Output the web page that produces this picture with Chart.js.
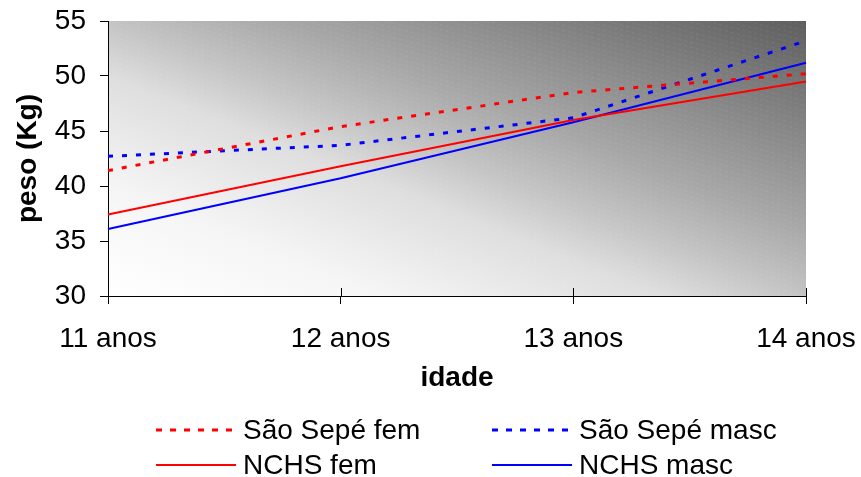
<!DOCTYPE html>
<html>
<head>
<meta charset="utf-8">
<script src="https://cdn.jsdelivr.net/npm/chart.js@4"></script>
<style>
  html, body { margin: 0; padding: 0; background: #fff; }
  #wrap { width: 861px; height: 477px; }
</style>
</head>
<body>
<div id="wrap"><canvas id="grafico"></canvas></div>
<script>
// --- DADOS ---
const idades = ["11 anos", "12 anos", "13 anos", "14 anos"];
const sepeFem = [41.4, 45.4, 48.5, 50.2];
const sepeMasc = [42.7, 43.7, 46.2, 53.2];
const nchsFem = [37.4, 41.8, 46.0, 49.5];
const nchsMasc = [36.1, 40.7, 45.8, 51.2];
const yTicks = [30, 35, 40, 45, 50, 55];

const FONTE = "Liberation Sans, Arial, sans-serif";
const TAM = 28;

// fundo em degradê diagonal (estilo Excel) + riscos claros
const fundo = {
    id: "fundo",
    beforeDatasetsDraw(chart) {
        const { ctx, chartArea: a } = chart;
        const w = a.right - a.left, h = a.bottom - a.top;
        ctx.save();
        // degradê em coordenadas normalizadas: canto inf. esq. claro, sup. dir. escuro
        ctx.translate(a.left, a.top);
        ctx.scale(w, h);
        const g = ctx.createLinearGradient(0, 1, 1, 0);
        g.addColorStop(0, "#ffffff");
        g.addColorStop(0.2, "#f5f5f5");
        g.addColorStop(0.4, "#dedede");
        g.addColorStop(0.5, "#c4c4c4");
        g.addColorStop(0.62, "#a8a8a8");
        g.addColorStop(1, "#5e5e5e");
        ctx.fillStyle = g;
        ctx.fillRect(0, 0, 1, 1);
        ctx.restore();

        ctx.save();
        ctx.beginPath();
        ctx.rect(a.left, a.top, w, h);
        ctx.clip();
        ctx.strokeStyle = "rgba(255,255,255,0.07)";
        ctx.lineWidth = 1;
        ctx.setLineDash([3, 3]);
        for (let y = a.top - w / 4; y < a.bottom + 10; y += 5) {
            ctx.beginPath();
            ctx.moveTo(a.left, y);
            ctx.lineTo(a.right, y + w / 4);
            ctx.stroke();
        }
        ctx.restore();

        // eixos e marcas internas do eixo x
        ctx.save();
        ctx.strokeStyle = "#000";
        ctx.lineWidth = 1;
        ctx.beginPath();
        ctx.moveTo(a.left + 0.5, a.top);
        ctx.lineTo(a.left + 0.5, a.bottom);
        ctx.moveTo(a.left, a.bottom + 0.5);
        ctx.lineTo(a.right, a.bottom + 0.5);
        const xs = chart.scales.x;
        xs.ticks.forEach((t, i) => {
            const px = Math.round(xs.getPixelForTick(i)) + 0.5;
            ctx.moveTo(px, a.bottom - 8);
            ctx.lineTo(px, a.bottom);
        });
        ctx.stroke();
        ctx.restore();
    }
};

// legenda em duas colunas, desenhada abaixo do gráfico
const legenda = {
    id: "legenda",
    afterDraw(chart) {
        const { ctx } = chart;
        const pos = [
            { x: 156, y: 430 }, { x: 492, y: 430 },
            { x: 156, y: 465 }, { x: 492, y: 465 }
        ];
        ctx.save();
        ctx.font = TAM + "px " + FONTE;
        ctx.textBaseline = "middle";
        chart.data.datasets.forEach((ds, i) => {
            const p = pos[i];
            ctx.strokeStyle = ds.borderColor;
            ctx.lineWidth = ds.borderWidth;
            ctx.setLineDash(ds.borderDash.length ? [6, 8] : []);
            ctx.beginPath();
            ctx.moveTo(p.x, p.y);
            ctx.lineTo(p.x + 80, p.y);
            ctx.stroke();
            ctx.setLineDash([]);
            ctx.fillStyle = "#000";
            ctx.fillText(ds.label, p.x + 87, p.y + 1);
        });
        ctx.restore();
    }
};

const serie = (label, data, cor, tracejado) => ({
    label, data,
    borderColor: cor,
    borderWidth: tracejado ? 3 : 2,
    borderDash: tracejado ? [5, 9] : [],
    pointRadius: 0,
    tension: 0,
    fill: false
});

new Chart(document.getElementById("grafico"), {
    type: "line",
    data: {
        labels: idades,
        datasets: [
            serie("São Sepé fem", sepeFem, "#ff0000", true),
            serie("São Sepé masc", sepeMasc, "#0000ff", true),
            serie("NCHS fem", nchsFem, "#ff0000", false),
            serie("NCHS masc", nchsMasc, "#0000ff", false)
        ]
    },
    options: {
        responsive: true,
        maintainAspectRatio: false,
        animation: false,
        layout: { padding: { top: 0, right: 0, bottom: 82, left: 0 } },
        plugins: { legend: { display: false }, tooltip: { enabled: false } },
        scales: {
            x: {
                offset: false,
                grid: { drawOnChartArea: false, tickLength: 8, color: "#000" },
                border: { display: false },
                ticks: { color: "#000", font: { family: FONTE, size: TAM }, padding: 18, maxRotation: 0 },
                title: { display: true, text: "idade", color: "#000", font: { family: FONTE, size: TAM, weight: "bold" }, padding: { top: 0, bottom: 0 } },
                afterFit: (s) => { s.height = 99; s.paddingLeft = 0; s.paddingRight = 55; }
            },
            y: {
                min: 30, max: 55,
                afterBuildTicks: (s) => { s.ticks = yTicks.map(v => ({ value: v })); },
                grid: { drawOnChartArea: false, tickLength: 8, color: "#000" },
                border: { display: false },
                ticks: { color: "#000", font: { family: FONTE, size: TAM }, padding: 14 },
                title: { display: true, text: "peso (Kg)", color: "#000", font: { family: FONTE, size: TAM, weight: "bold" }, padding: { top: 11, bottom: 0 } },
                afterFit: (s) => { s.width = 108; s.paddingTop = 21; s.paddingBottom = 0; }
            }
        }
    },
    plugins: [fundo, legenda]
});
</script>
</body>
</html>
